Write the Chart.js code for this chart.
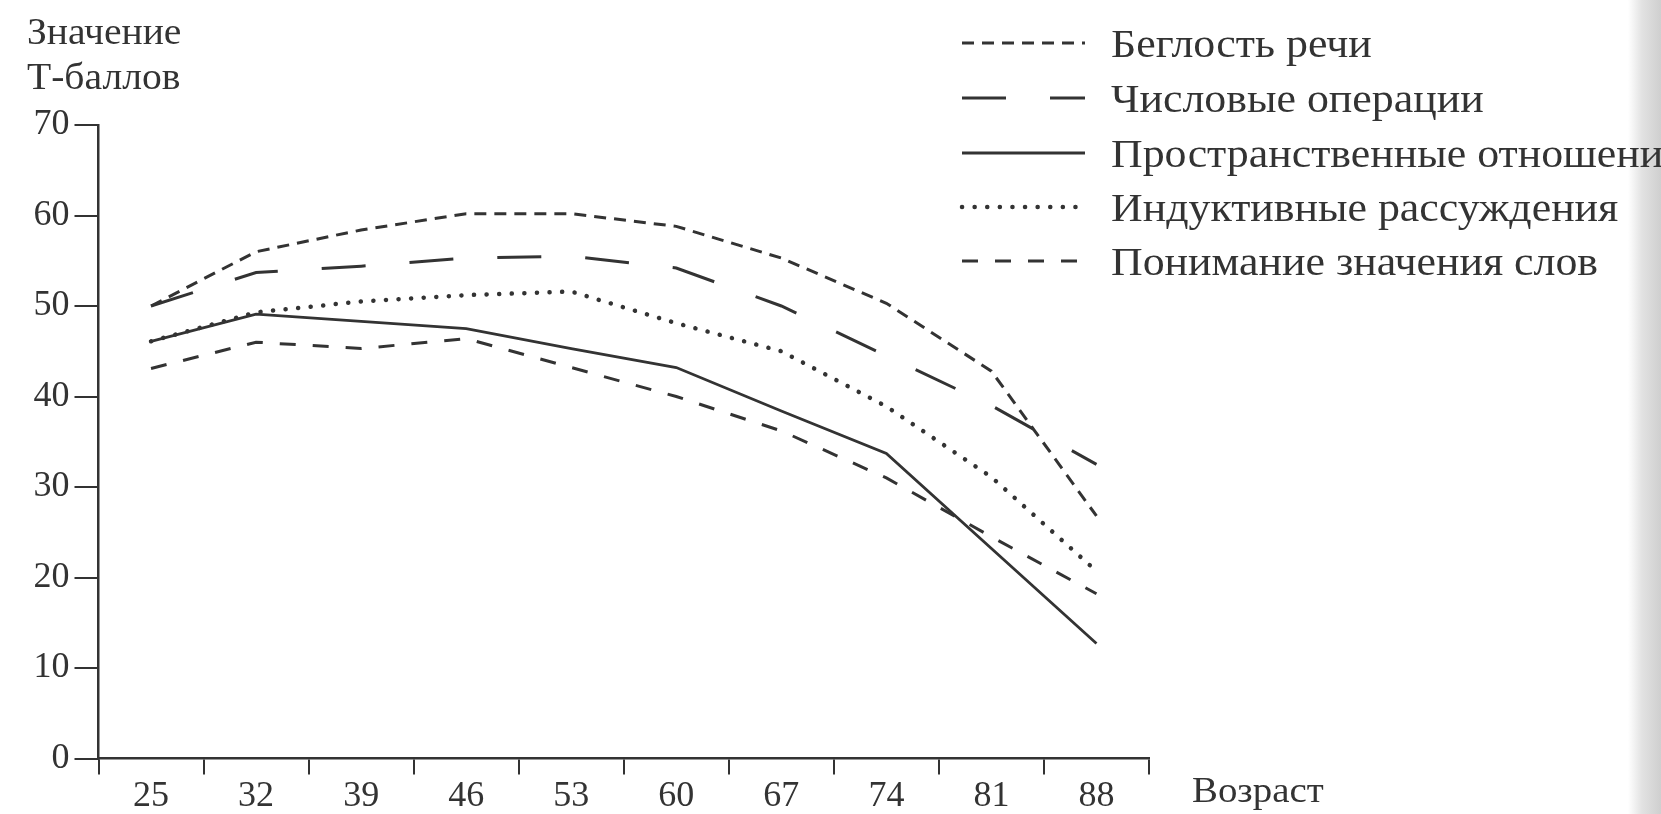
<!DOCTYPE html>
<html lang="ru">
<head>
<meta charset="utf-8">
<title>Возраст и Т-баллы</title>
<script src="https://cdn.jsdelivr.net/npm/chart.js@4.4.1/dist/chart.umd.min.js"></script>
<style>
    html, body {
        margin: 0;
        padding: 0;
        width: 1661px;
        height: 814px;
        overflow: hidden;
        background: linear-gradient(to right, #fff 0, #fff 1628px, #e2e2e2 1642px, #cfcfcf 1661px);
    }
    canvas { display: block; }
</style>
</head>
<body>
<canvas id="chart" width="1661" height="814"></canvas>
<script>
const ages = ['25', '32', '39', '46', '53', '60', '67', '74', '81', '88'];
const yTicks = [0, 10, 20, 30, 40, 50, 60, 70];

const fluency = [50, 56, 58.4, 60.2, 60.2, 58.8, 55.3, 50.3, 42.8, 26.8];
const numbers = [50, 53.7, 54.4, 55.3, 55.5, 54.2, 50, 44.5, 39, 32.5];
const spatial = [46.1, 49.1, 48.3, 47.5, 45.3, 43.2, 38.4, 33.7, 23.2, 12.7];
const inductive = [46.1, 49.3, 50.5, 51.2, 51.6, 48.1, 45, 38.9, 31.1, 20.7];
const verbal = [43.1, 46, 45.3, 46.4, 43.2, 40, 36.2, 31, 24.5, 18.2];

const INK = '#333333';
const FONT = '"Liberation Serif", "DejaVu Serif", serif';

// the printed font is wider than Times, so stretch the hand-drawn text a bit
const wideText = (ctx, text, x, y, size, stretch) => {
    ctx.save();
    ctx.font = `${size}px ${FONT}`;
    ctx.translate(x, y);
    ctx.scale(stretch, 1);
    ctx.fillText(text, 0, 0);
    ctx.restore();
};

// legend and axis titles are drawn by hand, the built-in legend can't be placed like the print
const overlay = {
    id: 'overlay',
    afterDraw(chart) {
        const ctx = chart.ctx;
        ctx.save();
        ctx.fillStyle = INK;
        ctx.strokeStyle = INK;
        ctx.textBaseline = 'middle';
        wideText(ctx, 'Значение', 27, 34, 37, 1.07);
        wideText(ctx, 'Т-баллов', 27, 79, 37, 1.07);
        wideText(ctx, 'Возраст', 1192, 793, 36, 1.08);

        const rows = [43, 98, 153, 207, 261];
        chart.data.datasets.forEach((ds, i) => {
            const y = rows[i];
            ctx.beginPath();
            ctx.setLineDash(ds.borderDash || []);
            ctx.lineWidth = ds.borderWidth;
            ctx.lineCap = ds.borderCapStyle || 'butt';
            ctx.moveTo(962, y);
            ctx.lineTo(1085, y);
            ctx.stroke();
            ctx.setLineDash([]);
            wideText(ctx, ds.label, 1111, y + 3, 41, 1.07);
        });
        ctx.restore();
    }
};

const line = (label, data, dash, width, cap) => ({
    label: label,
    data: data,
    borderColor: INK,
    borderWidth: width,
    borderDash: dash,
    borderCapStyle: cap || 'butt',
    pointRadius: 0,
    tension: 0,
    fill: false,
});

const ctx = document.getElementById('chart').getContext('2d');
new Chart(ctx, {
    type: 'line',
    data: {
        labels: ages,
        datasets: [
            line('Беглость речи', fluency, [12, 8], 3),
            line('Числовые операции', numbers, [44, 44], 3),
            line('Пространственные отношения', spatial, [], 2.8),
            line('Индуктивные рассуждения', inductive, [0.1, 12.5], 4.5, 'round'),
            line('Понимание значения слов', verbal, [16, 17], 3),
        ]
    },
    options: {
        responsive: false,
        animation: false,
        layout: {
            padding: { top: 125, left: 0, right: 1661 - 1149, bottom: 0 }
        },
        plugins: {
            legend: { display: false },
            title: { display: false },
            tooltip: { enabled: false }
        },
        scales: {
            x: {
                type: 'category',
                offset: true,
                grid: {
                    offset: true,
                    drawOnChartArea: false,
                    drawTicks: true,
                    tickLength: 16,
                    color: INK,
                    lineWidth: 2
                },
                border: { display: true, color: INK, width: 2.5 },
                ticks: {
                    color: INK,
                    font: { family: FONT, size: 36 },
                    padding: 0,
                    maxRotation: 0,
                    autoSkip: false
                },
                afterFit: (scale) => { scale.height = 814 - 758.5; }
            },
            y: {
                min: 0,
                max: 70,
                afterBuildTicks: (scale) => { scale.ticks = yTicks.map(v => ({ value: v })); },
                grid: {
                    drawOnChartArea: false,
                    drawTicks: true,
                    tickLength: 24,
                    color: INK,
                    lineWidth: 2
                },
                border: { display: true, color: INK, width: 2.5 },
                ticks: {
                    color: INK,
                    font: { family: FONT, size: 36 },
                    padding: 5
                },
                afterFit: (scale) => { scale.width = 98.5; }
            }
        }
    },
    plugins: [overlay]
});
</script>
</body>
</html>
